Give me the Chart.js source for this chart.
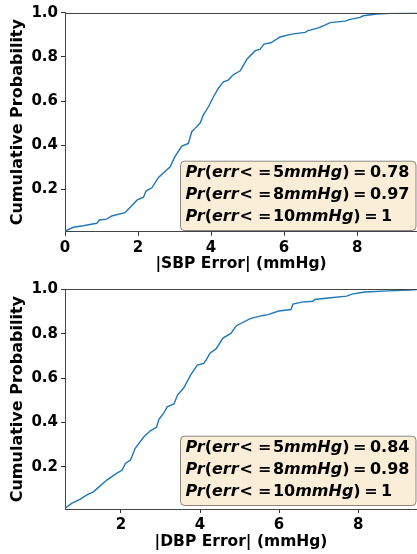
<!DOCTYPE html>
<html><head><meta charset="utf-8">
<script src="https://cdn.jsdelivr.net/npm/chart.js@4.4.0/dist/chart.umd.min.js"></script>
<style>
html,body{margin:0;padding:0;background:#fff;overflow:hidden;width:417px;height:554px}
canvas{display:block}
</style></head><body>
<canvas id="c1" width="417" height="277"></canvas>
<canvas id="c2" width="417" height="277"></canvas>
<script>
// ---- data ----
const sbpError = [0, 0.23, 0.50, 0.87, 0.94, 1.14, 1.28, 1.64, 1.78, 1.98, 2.15, 2.22, 2.38, 2.56, 2.88, 3.01, 3.20, 3.38, 3.47, 3.56, 3.70, 3.79, 3.93, 4.06, 4.20, 4.34, 4.47, 4.60, 4.80, 4.98, 5.21, 5.34, 5.45, 5.64, 5.89, 6.21, 6.58, 6.64, 6.94, 7.12, 7.26, 7.67, 7.81, 8.08, 8.17, 8.54, 9.18, 9.64];
const sbpCdf = [0.011, 0.028, 0.035, 0.046, 0.061, 0.065, 0.079, 0.094, 0.118, 0.152, 0.164, 0.192, 0.207, 0.254, 0.302, 0.348, 0.396, 0.408, 0.461, 0.476, 0.50, 0.537, 0.574, 0.617, 0.658, 0.687, 0.695, 0.718, 0.737, 0.789, 0.828, 0.834, 0.858, 0.864, 0.890, 0.903, 0.911, 0.918, 0.931, 0.944, 0.955, 0.962, 0.970, 0.979, 0.986, 0.994, 0.999, 1.0];
const dbpError = [0.583, 0.75, 0.96, 1.14, 1.30, 1.43, 1.64, 1.86, 2.03, 2.11, 2.24, 2.36, 2.58, 2.75, 2.90, 2.96, 3.08, 3.17, 3.34, 3.43, 3.59, 3.76, 3.93, 4.09, 4.15, 4.25, 4.40, 4.58, 4.78, 4.92, 5.27, 5.56, 5.72, 5.99, 6.30, 6.35, 6.57, 6.86, 6.90, 7.24, 7.71, 7.84, 8.17, 8.77, 9.28, 9.53];
const dbpCdf = [0.0126, 0.035, 0.053, 0.073, 0.087, 0.107, 0.140, 0.167, 0.185, 0.215, 0.230, 0.283, 0.335, 0.363, 0.378, 0.414, 0.442, 0.470, 0.483, 0.523, 0.556, 0.613, 0.658, 0.666, 0.680, 0.712, 0.730, 0.780, 0.801, 0.836, 0.868, 0.881, 0.886, 0.902, 0.909, 0.933, 0.942, 0.946, 0.954, 0.961, 0.969, 0.978, 0.988, 0.993, 0.997, 0.999];
const sbpXTicks = [0, 2, 4, 6, 8];
const dbpXTicks = [2, 4, 6, 8];
const yTicks = [0.2, 0.4, 0.6, 0.8, 1.0];
const sbpXLabel = '|SBP Error| (mmHg)';
const dbpXLabel = '|DBP Error| (mmHg)';
const yLabel = 'Cumulative Probability';
const statThresholds = ['5', '8', '10'];
const sbpStatValues = ['0.78', '0.97', '1'];
const dbpStatValues = ['0.84', '0.98', '1'];

const FAM = '"DejaVu Sans", sans-serif';
const TICK_FONT = {family: FAM, size: 15, weight: 'bold'};
const XTITLE_FONT = {family: FAM, size: 15.5, weight: 'bold'};
const YTITLE_FONT = {family: FAM, size: 16, weight: 'bold'};

const spinePlugin = {
  id: 'topSpine',
  afterDraw(chart) {
    const {ctx, chartArea: a} = chart;
    ctx.save();
    ctx.strokeStyle = '#444';
    ctx.lineWidth = 1;
    ctx.beginPath();
    ctx.moveTo(a.left, Math.round(a.top) + 0.5);
    ctx.lineTo(a.right, Math.round(a.top) + 0.5);
    ctx.stroke();
    ctx.restore();
  }
};

function drawMathLine(ctx, x, y, segs, size) {
  let cx = x;
  for (const s of segs) {
    if (typeof s === 'number') { cx += s; continue; }
    ctx.font = (s[1] === 'i' ? 'italic bold ' : 'bold ') + size + 'px ' + FAM;
    ctx.fillText(s[0], cx, y);
    cx += ctx.measureText(s[0]).width;
  }
  return cx - x;
}
function lineSegs(thr, val) {
  return [['Pr','i'],['(','n'],['err','i'],1,['<','n'],5,['=','n'],1.5,[thr,'n'],['mmHg','i'],[')','n'],3.5,['=','n'],3.5,[val,'n']];
}

const boxPlugin = {
  id: 'statBox',
  afterDraw(chart, args, opts) {
    const ctx = chart.ctx;
    const a = chart.chartArea;
    const size = 16;
    const lh = 21.7;
    const left = a.left + opts.dx;
    const bottom = a.bottom - opts.dy;
    const h = 69.3;
    const top = bottom - h;
    ctx.save();
    ctx.textBaseline = 'middle';
    ctx.globalAlpha = 0;
    let maxW = 0;
    statThresholds.forEach((t, i) => { maxW = Math.max(maxW, drawMathLine(ctx, 0, -100, lineSegs(t, opts.values[i]), size)); });
    ctx.globalAlpha = 1;
    const w = Math.min(maxW + 12, chart.width - left - 1.5);
    ctx.beginPath();
    ctx.roundRect(left + 0.5, top + 0.5, w, h, 4);
    ctx.fillStyle = 'rgba(245,222,179,0.5)';
    ctx.fill();
    ctx.strokeStyle = 'rgba(0,0,0,0.45)';
    ctx.lineWidth = 1;
    ctx.stroke();
    ctx.fillStyle = '#000';
    statThresholds.forEach((t, i) => {
      drawMathLine(ctx, left + 5.5, top + 12.5 + i * lh, lineSegs(t, opts.values[i]), size);
    });
    ctx.restore();
  }
};

function makeChart(id, xs, ys, cfg) {
  const pts = xs.map((x, i) => ({x: x, y: ys[i]}));
  return new Chart(document.getElementById(id), {
    type: 'line',
    data: {datasets: [{data: pts, borderColor: '#1f77b4', borderWidth: 1.4, pointRadius: 0, tension: 0, fill: false}]},
    options: {
      responsive: false, animation: false, devicePixelRatio: 1,
      layout: {padding: {top: cfg.padTop, right: 0, bottom: 0, left: 0}},
      plugins: {legend: {display: false}, tooltip: {enabled: false}, statBox: {values: cfg.values, dx: 115, dy: cfg.boxDy}},
      scales: {
        x: {
          type: 'linear', min: cfg.xMin, max: cfg.xMax,
          afterBuildTicks: s => { s.ticks = cfg.xTicks.map(v => ({value: v})); },
          afterFit: s => { s.height = cfg.xAxisH; },
          ticks: {font: TICK_FONT, color: '#000', padding: 3, maxRotation: 0, autoSkip: false, callback: v => String(v)},
          grid: {display: true, drawOnChartArea: false, drawTicks: true, tickLength: 4, tickColor: '#333', tickWidth: 1},
          border: {display: true, color: '#444', width: 1},
          title: {display: true, text: cfg.xTitle, font: XTITLE_FONT, color: '#000', padding: {top: 0, bottom: cfg.titleBottom}}
        },
        y: {
          type: 'linear', min: cfg.yMin, max: 1,
          afterBuildTicks: s => { s.ticks = yTicks.map(v => ({value: v})); },
          afterFit: s => { s.width = 65; },
          ticks: {font: TICK_FONT, color: '#000', padding: 3, autoSkip: false, callback: v => Number(v).toFixed(1)},
          grid: {display: true, drawOnChartArea: false, drawTicks: true, tickLength: 4, tickColor: '#333', tickWidth: 1},
          border: {display: true, color: '#444', width: 1},
          title: {display: true, text: yLabel, font: YTITLE_FONT, color: '#000', padding: {top: 8, bottom: 0}}
        }
      }
    },
    plugins: [spinePlugin, boxPlugin]
  });
}

makeChart('c1', sbpError, sbpCdf, {padTop: 12.7, xAxisH: 45.3, xMin: 0, xMax: 9.64, yMin: 0.008, xTicks: sbpXTicks, xTitle: sbpXLabel, titleBottom: 4, values: sbpStatValues, boxDy: 1.7});
makeChart('c2', dbpError, dbpCdf, {padTop: 12.3, xAxisH: 45, xMin: 0.583, xMax: 9.49, yMin: 0.0095, xTicks: dbpXTicks, xTitle: dbpXLabel, titleBottom: 3, values: dbpStatValues, boxDy: 4});
</script>
</body></html>
